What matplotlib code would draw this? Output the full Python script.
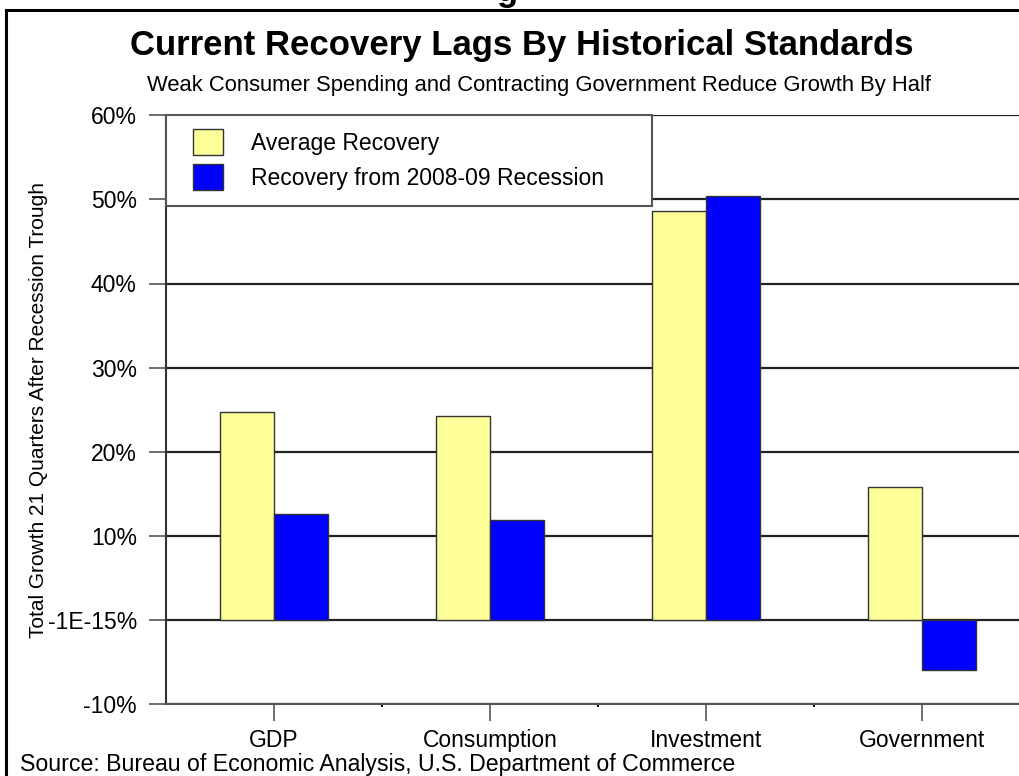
import matplotlib
matplotlib.use("Agg")
import matplotlib.pyplot as plt
from matplotlib.lines import Line2D
from matplotlib.patches import Rectangle
import numpy as np

plt.rcParams['font.family'] = ['Liberation Sans', 'DejaVu Sans']

categories = ["GDP", "Consumption", "Investment", "Government"]
average_recovery = [24.7, 24.2, 48.6, 15.8]
recovery_2008 = [12.6, 11.9, 50.4, -6.0]
ytick_values = [-10, 0, 10, 20, 30, 40, 50, 60]
ytick_labels = ["-10%", "-1E-15%", "10%", "20%", "30%", "40%", "50%", "60%"]

fig = plt.figure(figsize=(10.2, 7.76), dpi=100)
W, H = 1020.0, 776.0
AW, AH = 864.0, 704 - 115.3

ax = fig.add_axes([166 / W, (H - 704) / H, AW / W, AH / H])

x = np.arange(len(categories))
bw = 0.25
ax.bar(x - bw / 2, average_recovery, bw, color="#FFFF99", edgecolor="#333333",
       linewidth=1, label="Average Recovery", zorder=3)
ax.bar(x + bw / 2, recovery_2008, bw, color="#0000FF", edgecolor="#333333",
       linewidth=1, label="Recovery from 2008-09 Recession", zorder=3)

ax.set_xlim(-0.5, 3.5)
ax.set_ylim(-10, 60)
ax.set_yticks(ytick_values)
ax.set_yticklabels(ytick_labels)
ax.set_xticks(x)
ax.set_xticklabels(categories)
ax.set_xticks(np.arange(0.5, 3.5, 1), minor=True)
ax.tick_params(axis="x", which="minor", length=2, width=1.5, direction="out", color="black")
ax.tick_params(axis="both", which="major", labelsize=16.5, length=12, width=1.2,
               color="#555555")
ax.tick_params(axis="y", which="major", pad=9)
ax.tick_params(axis="x", which="major", pad=6)

for v in ytick_values:
    ax.axhline(v, color="#222222", linewidth=1.6, zorder=1)

for side in ["top", "right"]:
    ax.spines[side].set_visible(False)
ax.spines["left"].set_color("#333333")
ax.spines["bottom"].set_color("#555555")
ax.spines["left"].set_linewidth(1.5)
ax.spines["bottom"].set_linewidth(1.5)

ax.set_ylabel("Total Growth 21 Quarters After Recession Trough", fontsize=15)
ax.yaxis.set_label_coords(-(166 - 48) / AW, 0.5)

# legend box drawn separately so the entries can sit where the original has them
box = Rectangle((0, (704 - 206) / AH), 486 / AW, 1 - (704 - 206) / AH,
                transform=ax.transAxes, facecolor="white", edgecolor="#555555",
                linewidth=1.5, zorder=4, clip_on=False)
ax.add_patch(box)
leg = ax.legend(loc="upper left", bbox_to_anchor=((193 - 166) / AW, (704 - 129) / AH),
                borderaxespad=0, borderpad=0, fontsize=16.5, handlelength=1.3,
                handleheight=1.37, handletextpad=1.25, labelspacing=0.4,
                frameon=False)
leg.set_zorder(5)

fig.text(0.512, 1 - 46 / H, "Current Recovery Lags By Historical Standards",
         ha="center", va="center", fontsize=25, fontweight="bold")
fig.text(0.528, 1 - 86 / H,
         "Weak Consumer Spending and Contracting Government Reduce Growth By Half",
         ha="center", va="center", fontsize=15.8)
fig.text(20 / W, 1 - 765 / H,
         "Source: Bureau of Economic Analysis, U.S. Department of Commerce",
         ha="left", va="center", fontsize=16.7)
fig.text(507 / W, 1 - 1 / H, "g", ha="center", va="baseline", fontsize=25,
         fontweight="bold")

fig.add_artist(Line2D([6 / W, 6 / W], [0, 1 - 10 / H], transform=fig.transFigure,
                      color="black", linewidth=2.2))
fig.add_artist(Line2D([6 / W, 1], [1 - 10 / H, 1 - 10 / H], transform=fig.transFigure,
                      color="black", linewidth=2.2))

fig.savefig("out.png", dpi=100)
